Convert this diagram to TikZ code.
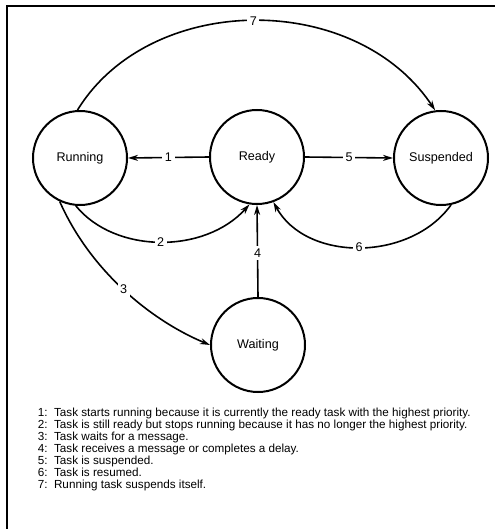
\documentclass[tikz,border=0pt]{standalone}
\usepackage{fontspec}
\setmainfont{Liberation Sans}
\usetikzlibrary{arrows.meta, positioning}

\begin{document}
\begin{tikzpicture}[x=1pt, y=-1pt, line width=1.6pt, font=\fontsize{12.6}{14}\selectfont]
            \tikzset{state/.style={draw, circle, minimum size=94pt, inner sep=0pt, line width=2pt},
                     num/.style={fill=white, inner sep=2.5pt, pos=0.5},
                     trans/.style={-{Stealth[length=10pt, width=6pt]}}}
            \useasboundingbox (0,0) rectangle (495,529);
            \draw[line width=1.3pt] (7,529) -- (7,6) -- (495,6);
            \node[state] (running) at (80,158) {Running};
            \node[state] (ready) at (257,157) {Ready};
            \node[state] (suspended) at (441,158) {Suspended};
            \node[state] (waiting) at (258,345) {Waiting};
            \draw[trans] (ready.west) -- node[num] {1} (running.east);
            \draw[trans] (ready.east) -- node[num] {5} (suspended.west);
            \draw[trans] (waiting.north) -- node[num, pos=0.48] {4} (ready.south);
            \draw[trans] (running.93) .. controls (150,-8) and (355,-10) .. node[num] {7} (suspended.97);
            \draw[trans] (running.-95) .. controls (115,254) and (205,254) .. node[num] {2} (ready.-99);
            \draw[trans] (suspended.-78) .. controls (410,262) and (306,262) .. node[num] {6} (ready.-70);
            \draw[trans] (running.-115) .. controls (90,270) and (150,320) .. node[num] {3} (waiting.west);
            \node[anchor=north west, inner sep=0pt, font=\fontsize{11.7}{11.8}\selectfont] (legend) at (37,407)
              {\begin{tabular}{@{}l@{\ \ }l@{}}
               1: & Task starts running because it is currently the ready task with the highest priority.\\
               2: & Task is still ready but stops running because it has no longer the highest priority.\\
               3: & Task waits for a message.\\
               4: & Task receives a message or completes a delay.\\
               5: & Task is suspended.\\
               6: & Task is resumed.\\
               7: & Running task suspends itself.
               \end{tabular}};
        \end{tikzpicture}
\end{document}
